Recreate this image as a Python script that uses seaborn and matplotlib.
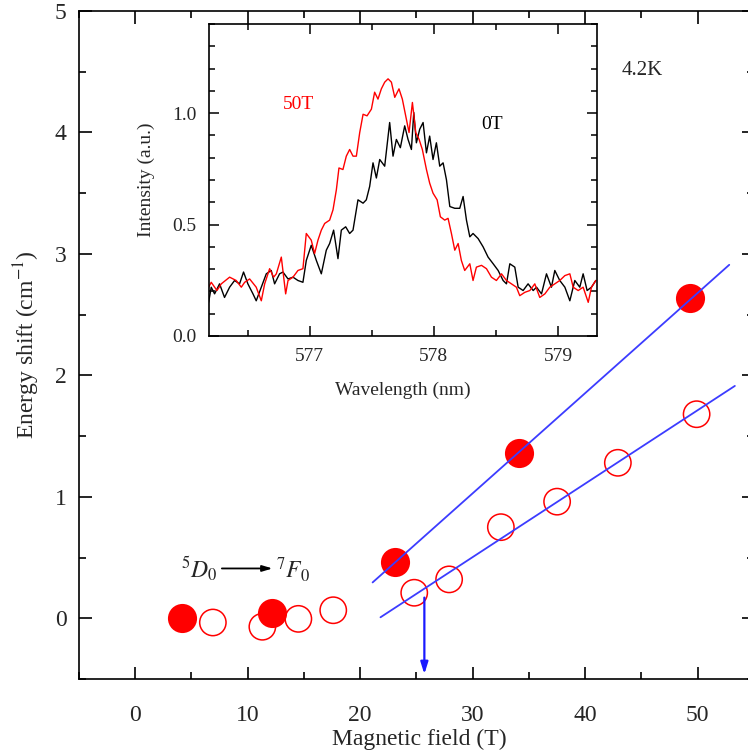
import numpy as np
import pandas as pd
import matplotlib
matplotlib.use("Agg")
import matplotlib.pyplot as plt
import seaborn as sns

# ---- Zeeman shift of the 5D0 -> 7F0 line versus magnetic field ----
field_filled = [4.2, 12.2, 23.1, 34.1, 49.3]
shift_filled = [0.00, 0.04, 0.46, 1.36, 2.64]

field_open = [6.9, 11.3, 14.5, 17.6, 24.8, 27.9, 32.5, 37.5, 42.9, 49.9]
shift_open = [-0.035, -0.07, -0.005, 0.066, 0.21, 0.32, 0.75, 0.96, 1.28, 1.68]

# linear fits above the threshold field
fit_upper_x = [21.1, 52.8]
fit_upper_y = [0.295, 2.91]
fit_lower_x = [21.8, 53.3]
fit_lower_y = [0.008, 1.913]

threshold_field = 25.7

# ---- emission spectra (inset) ----
wl_50T = [576.187, 576.208, 576.254, 576.289, 576.356, 576.409, 576.450, 576.477, 576.517, 576.570,
          576.611, 576.638, 576.678, 576.710, 576.732, 576.772, 576.807, 576.826, 576.866, 576.906,
          576.946, 576.973, 577.013, 577.040, 577.067, 577.094, 577.121, 577.161, 577.188, 577.215,
          577.236, 577.268, 577.295, 577.322, 577.349, 577.376, 577.403, 577.430, 577.462, 577.497,
          577.523, 577.550, 577.577, 577.604, 577.631, 577.658, 577.685, 577.719, 577.746, 577.773,
          577.800, 577.827, 577.854, 577.881, 577.907, 577.940, 577.966, 577.993, 578.026, 578.052,
          578.087, 578.114, 578.141, 578.168, 578.195, 578.221, 578.248, 578.289, 578.315, 578.342,
          578.383, 578.423, 578.463, 578.503, 578.544, 578.584, 578.624, 578.664, 578.691, 578.732,
          578.772, 578.812, 578.852, 578.893, 578.933, 578.973, 579.013, 579.054, 579.094, 579.121,
          579.161, 579.201, 579.242, 579.268, 579.303]
int_50T = [0.219, 0.241, 0.204, 0.234, 0.264, 0.249, 0.219, 0.241, 0.256, 0.219,
           0.158, 0.234, 0.302, 0.264, 0.279, 0.354, 0.189, 0.249, 0.264, 0.294,
           0.302, 0.460, 0.430, 0.370, 0.430, 0.475, 0.505, 0.520, 0.566, 0.656,
           0.754, 0.747, 0.807, 0.837, 0.807, 0.807, 0.913, 0.995, 0.988, 1.018,
           1.094, 1.063, 1.109, 1.139, 1.154, 1.139, 1.071, 1.109, 1.063, 0.988,
           0.913, 1.048, 0.913, 0.882, 0.837, 0.747, 0.686, 0.641, 0.611, 0.535,
           0.520, 0.528, 0.460, 0.385, 0.415, 0.339, 0.294, 0.324, 0.249, 0.309,
           0.317, 0.302, 0.264, 0.249, 0.279, 0.249, 0.234, 0.219, 0.181, 0.196,
           0.204, 0.234, 0.173, 0.189, 0.219, 0.234, 0.249, 0.271, 0.279, 0.219,
           0.204, 0.219, 0.151, 0.219, 0.249]

wl_0T = [576.187, 576.208, 576.235, 576.275, 576.315, 576.356, 576.396, 576.436, 576.468, 576.503,
         576.544, 576.570, 576.611, 576.651, 576.691, 576.718, 576.758, 576.785, 576.826, 576.866,
         576.906, 576.946, 576.973, 577.013, 577.054, 577.094, 577.134, 577.161, 577.193, 577.228,
         577.255, 577.290, 577.322, 577.349, 577.389, 577.430, 577.456, 577.483, 577.510, 577.537,
         577.564, 577.604, 577.644, 577.671, 577.698, 577.730, 577.765, 577.792, 577.819, 577.838,
         577.859, 577.886, 577.913, 577.940, 577.966, 577.993, 578.020, 578.047, 578.074, 578.101,
         578.128, 578.168, 578.208, 578.235, 578.262, 578.289, 578.315, 578.356, 578.396, 578.436,
         578.477, 578.517, 578.557, 578.584, 578.611, 578.651, 578.678, 578.718, 578.758, 578.799,
         578.826, 578.866, 578.906, 578.946, 578.973, 579.013, 579.054, 579.094, 579.134, 579.174,
         579.201, 579.233, 579.268, 579.303]
int_0T = [0.151, 0.219, 0.189, 0.234, 0.173, 0.219, 0.249, 0.234, 0.287, 0.234,
          0.189, 0.158, 0.219, 0.279, 0.294, 0.234, 0.279, 0.287, 0.256, 0.264,
          0.249, 0.241, 0.339, 0.407, 0.339, 0.279, 0.385, 0.415, 0.475, 0.347,
          0.475, 0.490, 0.460, 0.475, 0.611, 0.596, 0.611, 0.671, 0.777, 0.709,
          0.792, 0.762, 0.958, 0.807, 0.882, 0.845, 0.943, 0.882, 0.837, 1.003,
          0.867, 0.928, 0.958, 0.822, 0.897, 0.792, 0.867, 0.762, 0.777, 0.701,
          0.581, 0.573, 0.573, 0.626, 0.520, 0.445, 0.460, 0.437, 0.400, 0.354,
          0.324, 0.294, 0.249, 0.234, 0.324, 0.309, 0.219, 0.204, 0.234, 0.204,
          0.219, 0.189, 0.279, 0.219, 0.294, 0.249, 0.219, 0.158, 0.249, 0.219,
          0.279, 0.204, 0.219, 0.249]

main_xticks = [0, 10, 20, 30, 40, 50]
main_yticks = [0, 1, 2, 3, 4, 5]
inset_xticks = [577, 578, 579]
inset_yticks = [0.0, 0.5, 1.0]

sns.set_style("ticks")
plt.rcParams["font.family"] = ["Liberation Serif", "DejaVu Serif"]
plt.rcParams["mathtext.fontset"] = "stix"
plt.rcParams["axes.linewidth"] = 1.2
plt.rcParams["axes.edgecolor"] = "black"

fig = plt.figure(figsize=(7.48, 7.53), dpi=100)
ax = fig.add_axes([0.1056, 0.0983, 0.9024, 0.8871])

blue = "#3c3cff"
red = "#ff0000"

# open symbols first, filled ones on top
sns.scatterplot(x=field_open, y=shift_open, ax=ax, marker="o", s=360,
                facecolor="none", edgecolor=red, linewidth=1.1, zorder=3)
sns.scatterplot(x=field_filled, y=shift_filled, ax=ax, marker="o", s=440,
                color=red, edgecolor=red, linewidth=0, zorder=4)
sns.lineplot(x=fit_upper_x, y=fit_upper_y, ax=ax, color=blue, lw=1.3, zorder=5)
sns.lineplot(x=fit_lower_x, y=fit_lower_y, ax=ax, color=blue, lw=1.3, zorder=5)

ax.annotate("", xy=(threshold_field, -0.46), xytext=(threshold_field, 0.17),
            arrowprops=dict(arrowstyle="-|>,head_length=0.7,head_width=0.22",
                            color="#1a1aff", lw=1.6, shrinkA=0, shrinkB=0), zorder=6)

# transition label
ax.annotate("", xy=(12.2, 0.41), xytext=(7.7, 0.41),
            arrowprops=dict(arrowstyle="-|>,head_length=0.6,head_width=0.18",
                            color="black", lw=1.3, shrinkA=0, shrinkB=0))
ax.text(7.3, 0.40, r"$^{5}D_{0}$", fontsize=17, ha="right", va="center")
ax.text(12.5, 0.40, r"$^{7}F_{0}$", fontsize=17, ha="left", va="center")
ax.text(45.1, 4.51, "4.2K", fontsize=15, ha="center", va="center")

ax.set_xlim(-5, 55)
ax.set_ylim(-0.5, 5)
ax.set_xticks(main_xticks)
ax.set_yticks(main_yticks)
ax.set_xticks(np.arange(-5, 55.1, 5), minor=True)
ax.set_yticks(np.arange(-0.5, 5.01, 0.5), minor=True)
ax.tick_params(which="both", direction="in", top=True, right=True, width=1.2, color="black")
ax.tick_params(which="major", length=9, labelsize=17)
ax.tick_params(which="minor", length=5)
ax.tick_params(axis="x", which="major", pad=19)
ax.tick_params(axis="y", which="major", pad=9)
ax.set_xlabel("Magnetic field (T)", fontsize=17)
ax.set_ylabel(r"Energy shift (cm$^{-1}$)", fontsize=17)
ax.xaxis.set_label_coords(0.504, -0.075)
ax.yaxis.set_label_coords(-0.055, 0.5)
for sp in ax.spines.values():
    sp.set_visible(True)
    sp.set_linewidth(1.2)

# ---- inset: spectra at 0 T and 50 T ----
axin = fig.add_axes([0.2794, 0.5538, 0.5183, 0.4143])
spec = pd.concat([
    pd.DataFrame({"wavelength": wl_0T, "intensity": int_0T, "field": "0T"}),
    pd.DataFrame({"wavelength": wl_50T, "intensity": int_50T, "field": "50T"}),
])
sns.lineplot(data=spec, x="wavelength", y="intensity", hue="field",
             palette={"0T": "black", "50T": red}, hue_order=["0T", "50T"],
             sort=False, estimator=None, lw=1.0, legend=False, ax=axin)
axin.text(576.91, 1.04, "50T", color=red, fontsize=14, ha="center", va="center")
axin.text(578.47, 0.95, "0T", color="black", fontsize=14, ha="center", va="center")
axin.set_xlim(576.19, 579.31)
axin.set_ylim(0, 1.4)
axin.set_xticks(inset_xticks)
axin.set_yticks(inset_yticks)
axin.set_yticklabels([f"{v:.1f}" for v in inset_yticks])
axin.set_xticks(np.arange(576.5, 579.31, 0.5), minor=True)
axin.set_yticks(np.arange(0, 1.401, 0.1), minor=True)
axin.tick_params(which="both", direction="in", top=True, right=True, width=1.1, color="black")
axin.tick_params(which="major", length=7, labelsize=14)
axin.tick_params(which="minor", length=4)
axin.tick_params(axis="x", which="major", pad=9)
axin.tick_params(axis="y", which="major", pad=9)
axin.set_xlabel("Wavelength (nm)", fontsize=14)
axin.set_ylabel("Intensity (a.u.)", fontsize=14)
axin.xaxis.set_label_coords(0.499, -0.145)
axin.yaxis.set_label_coords(-0.14, 0.5)
for sp in axin.spines.values():
    sp.set_visible(True)
    sp.set_linewidth(1.2)

fig.savefig("out.png", dpi=100)
